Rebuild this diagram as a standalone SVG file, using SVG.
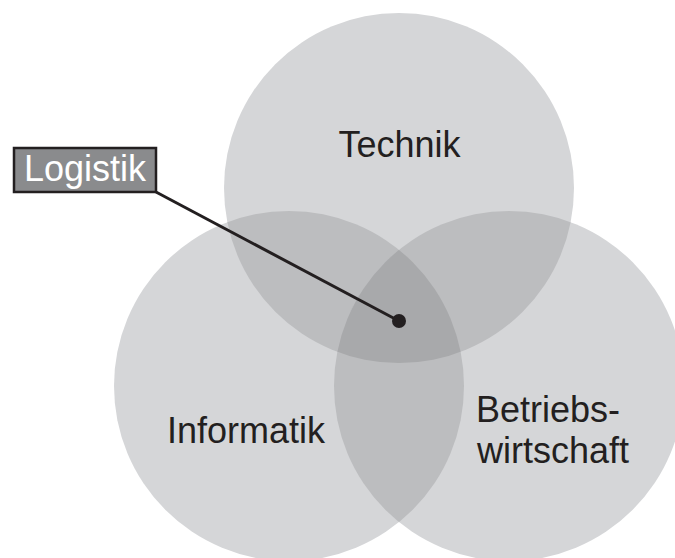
<svg xmlns="http://www.w3.org/2000/svg" width="675" height="558" viewBox="0 0 675 558">
<style>
.c1{fill:#d5d6d8}
.c2{fill:#bcbdbf}
.c3{fill:#a8a9ab}
.lbl{font-family:"Liberation Sans",Arial,sans-serif;font-size:36px;fill:#231f20}
</style>
<defs>
<clipPath id="clipT"><circle cx="399" cy="188" r="175"/></clipPath>
<clipPath id="clipI"><circle cx="289" cy="386" r="175"/></clipPath>
<clipPath id="clipB"><circle cx="509" cy="386" r="175"/></clipPath>
</defs>
<rect width="675" height="558" fill="#ffffff"/>
<g id="technik">
<circle class="c1" cx="399" cy="188" r="175"/>
<text class="lbl" x="399.5" y="157" text-anchor="middle">Technik</text>
</g>
<g id="informatik">
<circle class="c1" cx="289" cy="386" r="175"/>
</g>
<g id="betriebswirtschaft">
<circle class="c1" cx="509" cy="386" r="175"/>
</g>
<g id="overlaps">
<circle class="c2" cx="289" cy="386" r="175" clip-path="url(#clipT)"/>
<circle class="c2" cx="509" cy="386" r="175" clip-path="url(#clipT)"/>
<circle class="c2" cx="509" cy="386" r="175" clip-path="url(#clipI)"/>
<g clip-path="url(#clipT)"><circle class="c3" cx="509" cy="386" r="175" clip-path="url(#clipI)"/></g>
</g>
<g id="labels">
<text class="lbl" x="167" y="443">Informatik</text>
<text class="lbl" x="476" y="422">Betriebs-</text>
<text class="lbl" x="477" y="463">wirtschaft</text>
</g>
<g id="connectors">
<line x1="156" y1="192" x2="399" y2="321" stroke="#231f20" stroke-width="3"/>
<circle cx="399" cy="321" r="7" fill="#231f20"/>
</g>
<g id="logistik">
<rect x="14" y="148" width="142" height="44" fill="#8a8b8d" stroke="#231f20" stroke-width="2.5"/>
<text x="85" y="181" text-anchor="middle" font-family="Liberation Sans, Arial, sans-serif" font-size="36" fill="#ffffff">Logistik</text>
</g>
</svg>
